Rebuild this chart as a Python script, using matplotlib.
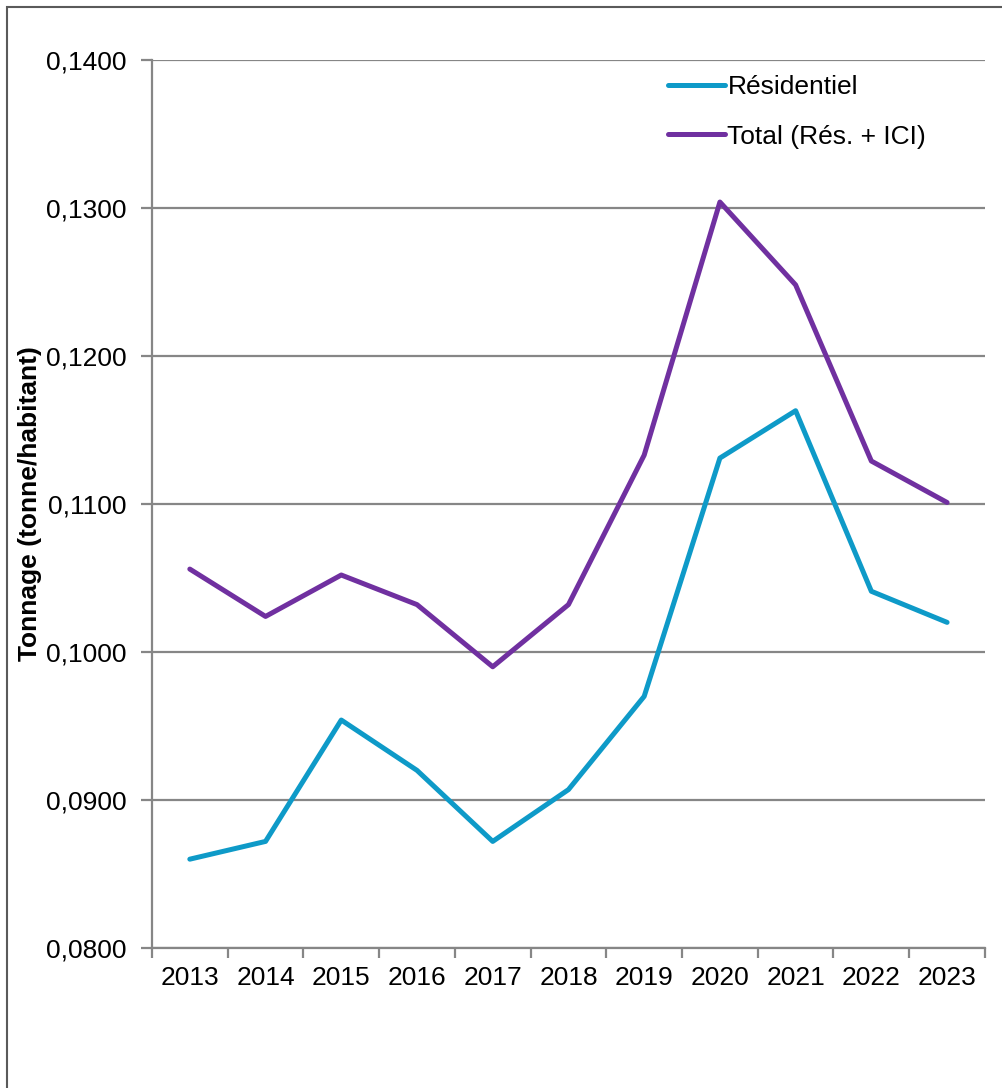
import matplotlib
matplotlib.use("Agg")
from matplotlib import pyplot as plt
from matplotlib.patches import Rectangle
from matplotlib.ticker import FuncFormatter, FixedLocator

plt.rcParams['font.family'] = ['Liberation Sans', 'DejaVu Sans']

years = ['2013', '2014', '2015', '2016', '2017', '2018', '2019', '2020', '2021', '2022', '2023']
residentiel = [0.0860, 0.0872, 0.0954, 0.0920, 0.0872, 0.0907, 0.0970, 0.1131, 0.1163, 0.1041, 0.1020]
total = [0.1056, 0.1024, 0.1052, 0.1032, 0.0990, 0.1032, 0.1133, 0.1304, 0.1248, 0.1129, 0.1101]

grey = '#868686'

fig = plt.figure(figsize=(10.03, 10.88), dpi=100)
ax = fig.add_axes([0.1515, 0.1287, 0.8305, 0.8162])

x = list(range(len(years)))
ax.plot(x, residentiel, color='#0E9AC8', lw=3.6, label='Résidentiel', solid_capstyle='round')
ax.plot(x, total, color='#7030A0', lw=3.6, label='Total (Rés. + ICI)', solid_capstyle='round')

ax.set_xlim(-0.5, len(years) - 0.5)
ax.set_ylim(0.08, 0.14)
ax.set_yticks([0.08, 0.09, 0.10, 0.11, 0.12, 0.13, 0.14])
ax.yaxis.set_major_formatter(FuncFormatter(lambda v, p: f"{v:.4f}".replace('.', ',')))
ax.yaxis.grid(True, color=grey, lw=1.6)
ax.set_axisbelow(True)

ax.set_xticks(x)
ax.set_xticklabels(years)
ax.xaxis.set_minor_locator(FixedLocator([i - 0.5 for i in range(len(years) + 1)]))
ax.tick_params(axis='x', which='major', length=0, pad=13, labelsize=19)
ax.tick_params(axis='x', which='minor', length=7, width=1.6, color=grey, direction='out')
ax.tick_params(axis='y', length=8, width=1.6, color=grey, labelsize=19, pad=10)

for s in ['top', 'right']:
    ax.spines[s].set_visible(False)
for s in ['left', 'bottom']:
    ax.spines[s].set_color(grey)
    ax.spines[s].set_linewidth(1.6)

ax.set_ylabel('Tonnage (tonne/habitant)', fontsize=19, fontweight='bold', labelpad=3)

ax.legend(loc='upper right', bbox_to_anchor=(0.958, 1.01), frameon=False, fontsize=19,
          handlelength=2.15, handletextpad=0.1, labelspacing=0.98)

# outer frame of the chart
fig.patches.append(Rectangle((7 / 1003, -0.1), 1.2, (1088 - 7) / 1088 + 0.1,
                             transform=fig.transFigure, fill=False,
                             edgecolor='#5a5a5a', lw=1.5))

fig.savefig('out.png', dpi=100)
